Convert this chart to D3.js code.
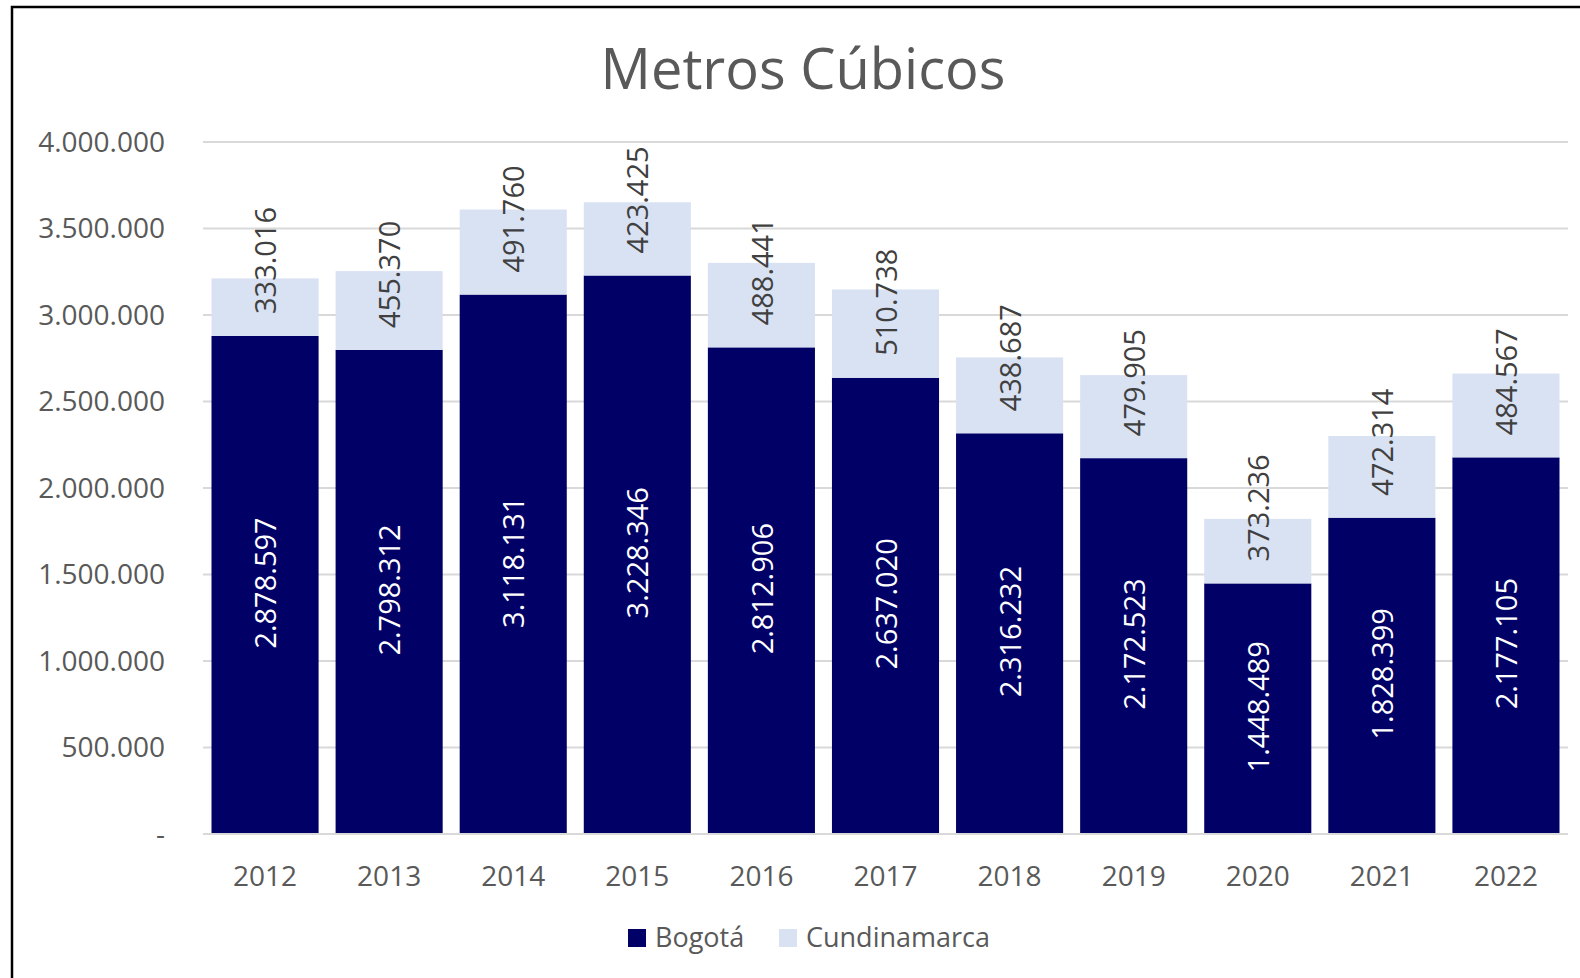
<!DOCTYPE html>
<html>
<head>
<meta charset="utf-8">
<script src="https://cdn.jsdelivr.net/npm/d3@7"></script>
<style>
  body { margin: 0; background: #fff; }
  svg { display: block; font-family: "Open Sans", sans-serif; }
</style>
</head>
<body>
<svg id="chart" width="1580" height="978"></svg>
<script>
const years = ["2012", "2013", "2014", "2015", "2016", "2017", "2018", "2019", "2020", "2021", "2022"];
const bogota = [2878597, 2798312, 3118131, 3228346, 2812906, 2637020, 2316232, 2172523, 1448489, 1828399, 2177105];
const cundinamarca = [333016, 455370, 491760, 423425, 488441, 510738, 438687, 479905, 373236, 472314, 484567];
const yTicks = [0, 500000, 1000000, 1500000, 2000000, 2500000, 3000000, 3500000, 4000000];
const seriesNames = ["Bogotá", "Cundinamarca"];
const colors = ["#000066", "#D9E2F3"];

const locale = d3.formatLocale({ decimal: ",", thousands: ".", grouping: [3], currency: ["$", ""] });
const fmt = locale.format(",d");

const svg = d3.select("#chart");
const margin = { left: 203, right: 12, top: 142, bottom: 144 };
const W = 1580, H = 978;

// chart frame (only left and top visible)
svg.append("path")
  .attr("d", `M12,${H} L12,7 L${W},7`)
  .attr("fill", "none")
  .attr("stroke", "#000")
  .attr("stroke-width", 2.5);

const x = d3.scaleBand()
  .domain(years)
  .range([margin.left, W - margin.right])
  .paddingInner(0.137)
  .paddingOuter(0.0685);

const y = d3.scaleLinear()
  .domain([0, 4000000])
  .range([H - margin.bottom, margin.top]);

// gridlines
svg.append("g")
  .selectAll("line")
  .data(yTicks)
  .join("line")
  .attr("x1", margin.left)
  .attr("x2", W - margin.right)
  .attr("y1", d => y(d))
  .attr("y2", d => y(d))
  .attr("stroke", "#d9d9d9")
  .attr("stroke-width", 2);

// y tick labels
svg.append("g")
  .selectAll("text")
  .data(yTicks)
  .join("text")
  .attr("x", 165)
  .attr("y", d => y(d))
  .attr("dy", "0.35em")
  .attr("text-anchor", "end")
  .attr("fill", "#595959")
  .attr("font-size", 28)
  .text(d => d === 0 ? "-" : fmt(d));

const rows = years.map((yr, i) => ({ year: yr, b: bogota[i], c: cundinamarca[i] }));

// bars
const bars = svg.append("g");
bars.selectAll("rect.b")
  .data(rows)
  .join("rect")
  .attr("class", "b")
  .attr("x", d => x(d.year))
  .attr("width", x.bandwidth())
  .attr("y", d => y(d.b))
  .attr("height", d => y(0) - y(d.b))
  .attr("fill", colors[0]);

bars.selectAll("rect.c")
  .data(rows)
  .join("rect")
  .attr("class", "c")
  .attr("x", d => x(d.year))
  .attr("width", x.bandwidth())
  .attr("y", d => y(d.b + d.c))
  .attr("height", d => y(d.b) - y(d.b + d.c))
  .attr("fill", colors[1]);

// redraw baseline on top
svg.append("line")
  .attr("x1", margin.left).attr("x2", W - margin.right)
  .attr("y1", y(0)).attr("y2", y(0))
  .attr("stroke", "#d9d9d9").attr("stroke-width", 2);

// data labels, rotated
const labels = svg.append("g").attr("font-size", 29);
labels.selectAll("text.b")
  .data(rows)
  .join("text")
  .attr("class", "b")
  .attr("transform", d => `translate(${x(d.year) + x.bandwidth() / 2 + 1},${(y(0) + y(d.b)) / 2 - 2}) rotate(-90)`)
  .attr("text-anchor", "middle")
  .attr("dy", "0.35em")
  .attr("fill", "#fff")
  .text(d => fmt(d.b));

labels.selectAll("text.c")
  .data(rows)
  .join("text")
  .attr("class", "c")
  .attr("transform", d => `translate(${x(d.year) + x.bandwidth() / 2 + 1},${y(d.b) - 22}) rotate(-90)`)
  .attr("text-anchor", "start")
  .attr("dy", "0.35em")
  .attr("fill", "#404040")
  .text(d => fmt(d.c));

// x category labels
svg.append("g")
  .selectAll("text")
  .data(years)
  .join("text")
  .attr("x", d => x(d) + x.bandwidth() / 2)
  .attr("y", 886)
  .attr("text-anchor", "middle")
  .attr("fill", "#595959")
  .attr("font-size", 28)
  .text(d => d);

// title
svg.append("text")
  .attr("x", 803)
  .attr("y", 89)
  .attr("text-anchor", "middle")
  .attr("fill", "#595959")
  .attr("font-size", 56)
  .text("Metros Cúbicos");

// legend
const legendX = [628, 779];
const legend = svg.append("g");
seriesNames.forEach((name, i) => {
  legend.append("rect")
    .attr("x", legendX[i])
    .attr("y", 929)
    .attr("width", 18)
    .attr("height", 18)
    .attr("fill", colors[i]);
  legend.append("text")
    .attr("x", legendX[i] + 27)
    .attr("y", 947)
    .attr("fill", "#595959")
    .attr("font-size", 27)
    .text(name);
});
</script>
</body>
</html>
